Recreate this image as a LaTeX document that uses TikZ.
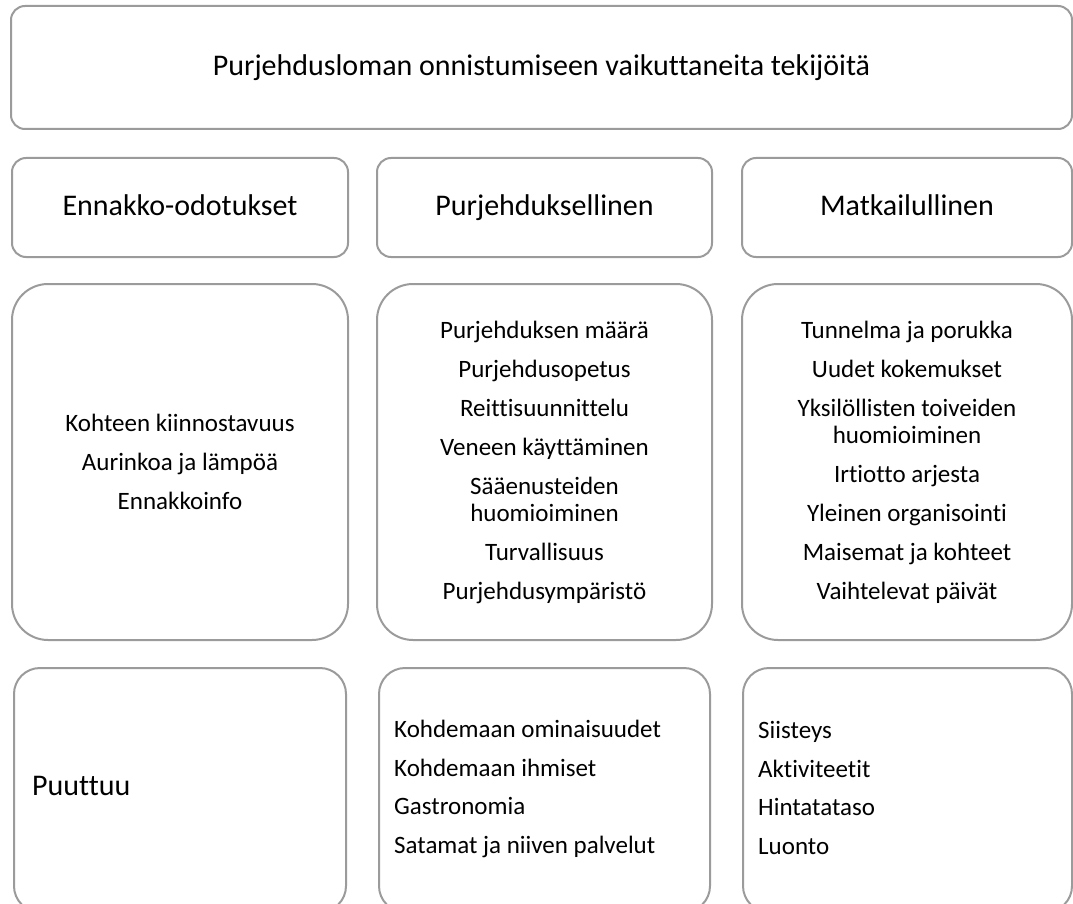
\documentclass[tikz,border=0pt]{standalone}
\usepackage{fontspec}
\setmainfont[Ligatures=NoCommon]{Carlito}
\definecolor{boxgray}{RGB}{155,155,155}
\begin{document}
\begin{tikzpicture}[x=1pt,y=-1pt,
  box/.style={draw=boxgray, line width=2pt, rounded corners=#1, inner sep=0pt, outer sep=0pt, anchor=north west},
  head/.style={font=\fontsize{30}{36}\selectfont, text height=22pt, text depth=6pt},
  items/.style={font=\fontsize{25}{27}\selectfont, align=center},
  litems/.style={font=\fontsize{25}{38.5}\selectfont, align=left, anchor=west, inner sep=0pt}]
\useasboundingbox (0,0) rectangle (1073,904);
\clip (0,0) rectangle (1073,904);
% title
\node[box=14pt, head, minimum width=1061pt, minimum height=123pt] (title) at (11,6) {Purjehdusloman onnistumiseen vaikuttaneita tekijöitä};
% headers
\node[box=14pt, head, minimum width=336pt, minimum height=99pt] (h1) at (12,158) {Ennakko-odotukset};
\node[box=14pt, head, minimum width=335pt, minimum height=99pt] (h2) at (377,158) {Purjehduksellinen};
\node[box=14pt, head, minimum width=330pt, minimum height=99pt] (h3) at (742,158) {Matkailullinen};
% row 3
\node[box=36pt, items, minimum width=336pt, minimum height=356pt] (c1) at (12,284)
  {Kohteen kiinnostavuus\\[12pt]Aurinkoa ja lämpöä\\[12pt]Ennakkoinfo};
\node[box=36pt, items, minimum width=335pt, minimum height=356pt] (c2) at (377,284)
  {Purjehduksen määrä\\[12pt]Purjehdusopetus\\[12pt]Reittisuunnittelu\\[12pt]Veneen käyttäminen\\[12pt]Sääenusteiden\\huomioiminen\\[12pt]Turvallisuus\\[12pt]Purjehdusympäristö};
\node[box=36pt, items, minimum width=330pt, minimum height=356pt] (c3) at (742,284)
  {Tunnelma ja porukka\\[12pt]Uudet kokemukset\\[12pt]Yksilöllisten toiveiden\\huomioiminen\\[12pt]Irtiotto arjesta\\[12pt]Yleinen organisointi\\[12pt]Maisemat ja kohteet\\[12pt]Vaihtelevat päivät};
% row 4
\node[box=26pt, minimum width=332pt, minimum height=244pt] (d1) at (14,668) {};
\node[box=26pt, minimum width=331pt, minimum height=244pt] (d2) at (379,668) {};
\node[box=26pt, minimum width=329pt, minimum height=244pt] (d3) at (743,668) {};
\node[font=\fontsize{30}{36}\selectfont, anchor=west, inner sep=0pt] (t1) at (32,786) {Puuttuu};
\node[litems] (t2) at (394,789) {Kohdemaan ominaisuudet\\Kohdemaan ihmiset\\Gastronomia\\Satamat ja niiven palvelut};
\node[litems] (t3) at (758,788) {Siisteys\\Aktiviteetit\\Hintatataso\\Luonto};
\end{tikzpicture}
\end{document}
